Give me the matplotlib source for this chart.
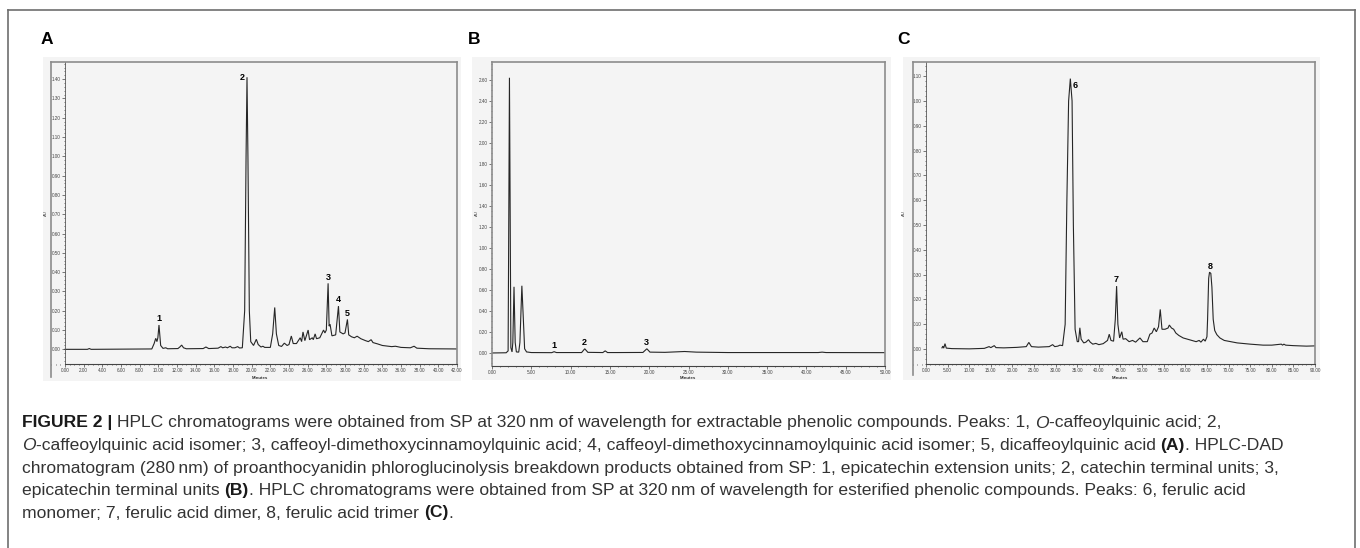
import matplotlib
matplotlib.use('Agg')
import matplotlib.pyplot as plt
from matplotlib.lines import Line2D
from matplotlib.patches import Rectangle
from matplotlib.ticker import MultipleLocator, FormatStrFormatter

W, H = 1360, 548

# panel A - extractable phenolics, 320 nm (retention time in min, absorbance in AU)
a_time = [0.0, 2.4, 2.6, 2.8, 9.3, 9.55, 9.72, 9.85, 9.95, 10.07, 10.25, 10.5, 10.8, 11.0,
          12.1, 12.3, 12.5, 12.7, 13.0, 14.8, 15.1, 15.4, 16.4, 16.7, 16.9, 17.2, 17.4, 17.7,
          17.9, 18.2, 18.5, 18.7, 19.0, 19.25, 19.4, 19.5, 19.6, 19.75, 19.9, 20.2, 20.5, 20.7,
          21.0, 21.2, 21.4, 22.0, 22.25, 22.47, 22.65, 22.9, 23.2, 23.5, 23.8, 24.0, 24.25, 24.45,
          24.8, 25.2, 25.35, 25.5, 25.7, 26.05, 26.2, 26.5, 26.6, 26.8, 26.95, 27.3, 27.7, 27.85,
          28.0, 28.19, 28.3, 28.4, 28.6, 29.0, 29.3, 29.45, 29.8, 30.0, 30.26, 30.4, 30.7, 31.0,
          31.3, 31.7, 32.2, 32.5, 32.8, 33.0, 33.5, 34.0, 35.0, 35.4, 36.0, 37.0, 37.4, 37.7,
          39.0, 42.0]
a_au = [0.000, 0.000, 0.004, 0.000, 0.002, 0.030, 0.057, 0.040, 0.060, 0.126, 0.020, 0.005, 0.008, 0.003,
        0.004, 0.012, 0.022, 0.008, 0.003, 0.004, 0.012, 0.004, 0.006, 0.014, 0.008, 0.012, 0.008, 0.016,
        0.008, 0.008, 0.014, 0.007, 0.008, 0.200, 1.000, 1.410, 1.000, 0.200, 0.040, 0.020, 0.052, 0.025,
        0.012, 0.016, 0.010, 0.010, 0.080, 0.217, 0.080, 0.020, 0.015, 0.032, 0.020, 0.025, 0.069, 0.030,
        0.030, 0.060, 0.040, 0.090, 0.045, 0.100, 0.050, 0.060, 0.050, 0.080, 0.055, 0.060, 0.100, 0.085,
        0.100, 0.342, 0.120, 0.130, 0.070, 0.075, 0.224, 0.090, 0.080, 0.085, 0.155, 0.075, 0.065, 0.060,
        0.068, 0.055, 0.045, 0.040, 0.050, 0.035, 0.028, 0.020, 0.014, 0.016, 0.010, 0.008, 0.016, 0.006,
        0.003, 0.002]
a_peaks = ['1', '2', '3', '4', '5']
a_peak_t = [10.07, 19.5, 28.19, 29.3, 30.26]
a_peak_au = [0.126, 1.41, 0.342, 0.224, 0.155]

# panel B - phloroglucinolysis products, 280 nm
b_time = [0.0, 1.8, 2.05, 2.15, 2.22, 2.3, 2.4, 2.55, 2.65, 2.8, 2.95, 3.1, 3.4, 3.55, 3.8, 4.0,
          4.15, 4.4, 5.0, 7.6, 7.9, 8.2, 11.4, 11.8, 12.2, 14.1, 14.4, 14.7, 16.0, 19.2, 19.7, 20.1,
          22.0, 24.5, 26.0, 30.0, 41.5, 42.0, 42.5, 50.0]
b_au = [0.000, 0.002, 0.020, 1.500, 2.620, 1.500, 0.050, 0.010, 0.100, 0.630, 0.100, 0.010, 0.008, 0.100,
        0.640, 0.300, 0.040, 0.010, 0.004, 0.003, 0.012, 0.004, 0.004, 0.040, 0.006, 0.004, 0.020, 0.004,
        0.004, 0.005, 0.040, 0.008, 0.006, 0.014, 0.008, 0.004, 0.004, 0.008, 0.004, 0.003]
b_peaks = ['1', '2', '3']
b_peak_t = [7.9, 11.8, 19.7]
b_peak_au = [0.012, 0.040, 0.040]

# panel C - esterified phenolics, 320 nm
c_time = [3.7, 3.9, 4.1, 4.4, 4.7, 6.0, 10.0, 13.5, 14.6, 15.0, 15.8, 16.2, 18.0, 21.0, 23.2, 23.8,
          24.4, 26.0, 28.5, 29.3, 29.8, 30.5, 31.0, 31.6, 32.2, 32.6, 33.0, 33.4, 33.8, 34.1, 34.5,
          35.0, 35.3, 35.6, 35.9, 36.5, 37.0, 37.6, 38.0, 38.6, 39.3, 40.0, 41.0, 42.0, 42.4, 42.8,
          43.4, 43.8, 44.1, 44.4, 44.8, 45.3, 45.6, 46.2, 47.0, 47.8, 48.5, 49.5, 50.2, 51.2, 51.8,
          52.3, 52.8, 53.3, 53.8, 54.2, 54.6, 55.3, 56.0, 56.3, 56.8, 57.3, 57.8, 58.5, 59.5, 60.5,
          61.5, 62.5, 63.2, 63.6, 64.2, 64.6, 65.0, 65.15, 65.4, 65.6, 65.9, 66.15, 66.45, 66.8,
          67.3, 68.0, 69.0, 70.5, 72.0, 75.0, 78.0, 80.0, 82.2, 82.5, 82.8, 83.2, 85.0, 88.0, 90.0]
c_au = [0.005, 0.012, 0.004, 0.022, 0.004, 0.002, 0.001, 0.003, 0.010, 0.006, 0.014, 0.006, 0.005, 0.007,
        0.010, 0.027, 0.010, 0.008, 0.010, 0.018, 0.010, 0.012, 0.016, 0.014, 0.100, 0.600, 1.000, 1.090,
        1.000, 0.500, 0.080, 0.030, 0.030, 0.086, 0.040, 0.025, 0.028, 0.038, 0.028, 0.020, 0.023, 0.018,
        0.022, 0.035, 0.060, 0.035, 0.032, 0.120, 0.254, 0.100, 0.045, 0.070, 0.040, 0.042, 0.030, 0.035,
        0.028, 0.045, 0.030, 0.030, 0.060, 0.065, 0.085, 0.070, 0.090, 0.160, 0.080, 0.080, 0.085, 0.097,
        0.085, 0.080, 0.065, 0.055, 0.045, 0.040, 0.035, 0.030, 0.035, 0.028, 0.040, 0.032, 0.050, 0.120,
        0.285, 0.310, 0.305, 0.250, 0.120, 0.075, 0.058, 0.045, 0.035, 0.030, 0.025, 0.020, 0.016, 0.016,
        0.020, 0.016, 0.020, 0.016, 0.014, 0.012, 0.013]
c_peaks = ['6', '7', '8']
c_peak_t = [33.4, 44.1, 65.7]
c_peak_au = [1.09, 0.254, 0.31]

caption_lines = [
    [('FIGURE 2 |', 'bold', 'normal'),
     (' HPLC chromatograms were obtained from SP at 320\u2009nm of wavelength for extractable '
      'phenolic compounds. Peaks: 1, ', 'normal', 'normal'),
     ('O', 'normal', 'italic'), ('-caffeoylquinic acid; 2,', 'normal', 'normal')],
    [('O', 'normal', 'italic'),
     ('-caffeoylquinic acid isomer; 3, caffeoyl-dimethoxycinnamoylquinic acid; 4, '
      'caffeoyl-dimethoxycinnamoylquinic acid isomer; 5, dicaffeoylquinic acid ', 'normal', 'normal'),
     ('(A)', 'bold', 'normal'), ('. HPLC-DAD', 'normal', 'normal')],
    [('chromatogram (280\u2009nm) of proanthocyanidin phloroglucinolysis breakdown products obtained '
      'from SP: 1, epicatechin extension units; 2, catechin terminal units; 3,', 'normal', 'normal')],
    [('epicatechin terminal units ', 'normal', 'normal'), ('(B)', 'bold', 'normal'),
     ('. HPLC chromatograms were obtained from SP at 320\u2009nm of wavelength for esterified '
      'phenolic compounds. Peaks: 6, ferulic acid', 'normal', 'normal')],
    [('monomer; 7, ferulic acid dimer, 8, ferulic acid trimer ', 'normal', 'normal'),
     ('(C)', 'bold', 'normal'), ('.', 'normal', 'normal')],
]

FONT = ['Liberation Sans', 'DejaVu Sans']
TRACE = '#262626'
FRAME = '#8c8c8c'


def fx(px):
    return px / W


def fy(py):
    return 1 - py / H


fig = plt.figure(figsize=(W / 100, H / 100), dpi=100)
fig.patch.set_facecolor('white')

# outer border of the figure box
for xs, ys in [([8, 8], [10, 548]), ([8, 1355], [10, 10]), ([1355, 1355], [10, 548])]:
    fig.add_artist(Line2D([fx(v) for v in xs], [fy(v) for v in ys], color='#6e6e6e', lw=1.2))


def chromatogram(box, bg, xlim, ylim, xstep, ystep, t, au, names, pt, pau, letter,
                 letter_x, au_x, min_x, frame_bottom=None, label_style='above'):
    x0, x1, ytop, yax = box
    fig.add_artist(Rectangle((fx(bg[0]), fy(bg[3])), (bg[1] - bg[0]) / W, (bg[3] - bg[2]) / H,
                             transform=fig.transFigure, facecolor='#f4f4f4', edgecolor='none',
                             zorder=-5))
    ax = fig.add_axes([fx(x0), fy(yax), (x1 - x0) / W, (yax - ytop) / H])
    ax.patch.set_visible(False)
    ax.set_xlim(*xlim)
    ax.set_ylim(*ylim)
    ax.plot(t, au, color=TRACE, lw=0.8, solid_joinstyle='miter')

    ax.spines['top'].set_color(FRAME)
    ax.spines['right'].set_color(FRAME)
    ax.spines['top'].set_linewidth(1.2)
    ax.spines['right'].set_linewidth(1.2)
    ax.spines['left'].set_position(('data', 0))
    ax.spines['left'].set_color('#555555')
    ax.spines['left'].set_linewidth(0.6)
    ax.spines['bottom'].set_color('#444444')
    ax.spines['bottom'].set_linewidth(0.8)
    ax.spines['bottom'].set_bounds(0, xlim[1])
    if xlim[0] == 0:
        ax.spines['left'].set_color(FRAME)
        ax.spines['left'].set_linewidth(1.2)

    ax.xaxis.set_major_locator(MultipleLocator(xstep[0]))
    ax.xaxis.set_minor_locator(MultipleLocator(xstep[1]))
    ax.yaxis.set_major_locator(MultipleLocator(ystep[0]))
    ax.yaxis.set_minor_locator(MultipleLocator(ystep[1]))
    ax.xaxis.set_major_formatter(FormatStrFormatter('%.2f'))
    ax.yaxis.set_major_formatter(FormatStrFormatter('%.2f'))
    ax.set_xticks([v for v in ax.get_xticks() if 0 <= v <= xlim[1] + 1e-9])
    ax.set_yticks([v for v in ax.get_yticks() if 0 <= v <= ylim[1]])
    ax.tick_params(which='both', direction='out', labelsize=3.3, pad=0.8, width=0.5,
                   colors='#444444')
    ax.tick_params(which='major', length=2.2)
    ax.tick_params(which='minor', length=1.0)
    for lab in ax.get_xticklabels() + ax.get_yticklabels():
        lab.set_family(FONT)

    if frame_bottom is not None:
        fig.add_artist(Line2D([fx(x0), fx(x0)], [fy(ytop), fy(frame_bottom)], color=FRAME, lw=1.2))

    for i, name in enumerate(names):
        if label_style == 'right' and i == 0:
            ax.annotate(name, (pt[i], pau[i]), xytext=(1.5, -2), textcoords='offset points',
                        ha='left', va='top', fontsize=6.5, weight='bold', family=FONT)
        elif label_style == 'left' and i == 1:
            ax.annotate(name, (pt[i], pau[i]), xytext=(-3.5, 0), textcoords='offset points',
                        ha='center', va='center', fontsize=6.5, weight='bold', family=FONT)
        else:
            ax.annotate(name, (pt[i], pau[i]), xytext=(0, 1.2), textcoords='offset points',
                        ha='center', va='bottom', fontsize=6.5, weight='bold', family=FONT)

    fig.text(fx(letter_x), fy(39), letter, fontsize=12.5, weight='bold', va='center',
             ha='left', family=FONT)
    fig.text(fx(au_x), fy(213), 'AU', fontsize=3, rotation=90, va='center', ha='center',
             family=FONT, color='#333333')
    fig.text(fx(min_x), fy(378), 'Minutes', fontsize=3.2, weight='bold', va='center',
             ha='center', family=FONT, color='#333333')
    return ax


chromatogram((51, 457, 62, 364), (43, 461, 57, 381), (-1.5, 42), (-0.076, 1.489), (2, 0.5),
             (0.1, 0.02), a_time, a_au, a_peaks, a_peak_t, a_peak_au, 'A', 41, 46, 260,
             frame_bottom=377, label_style='left')
chromatogram((492, 885, 62, 366), (472, 891, 57, 380), (0, 50), (-0.124, 2.77), (5, 1),
             (0.2, 0.05), b_time, b_au, b_peaks, b_peak_t, b_peak_au, 'B', 468, 477, 688)
chromatogram((913, 1315, 62, 364), (903, 1320, 57, 380), (-3.0, 90), (-0.06, 1.157), (5, 1),
             (0.1, 0.02), c_time, c_au, c_peaks, c_peak_t, c_peak_au, 'C', 897, 904, 1120,
             frame_bottom=375, label_style='right')

# caption, drawn run by run so bold / italic pieces sit inline
renderer = fig.canvas.get_renderer()
CAP_SIZE = 12.6


def text_width(s, weight, style):
    t = fig.text(0, 0, s, fontsize=CAP_SIZE, weight=weight, style=style, family=FONT)
    w = t.get_window_extent(renderer).width
    t.remove()
    return w


def advance(s, weight, style):
    return text_width('|' + s + '|', weight, style) - text_width('||', weight, style)


line_y = [423, 445.5, 468, 490.5, 513]
for y, runs in zip(line_y, caption_lines):
    x = 22
    for s, weight, style in runs:
        lead = len(s) - len(s.lstrip(' '))
        off = advance(' ' * lead, weight, style) if lead else 0
        col = '#1a1a1a' if weight == 'bold' else '#333333'
        fig.text(fx(x + off), fy(y), s.strip(' '), fontsize=CAP_SIZE, weight=weight, style=style,
                 family=FONT, color=col, va='center', ha='left')
        x += advance(s, weight, style)

fig.savefig('out.png', dpi=100)
